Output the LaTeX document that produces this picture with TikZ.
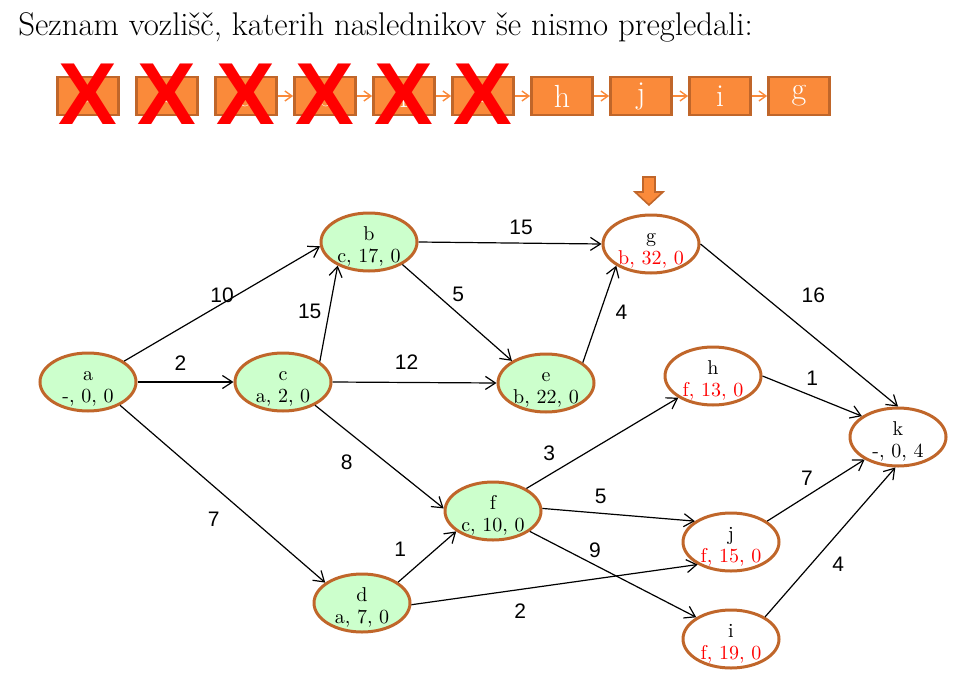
\documentclass[tikz,border=0pt]{standalone}
\usepackage{fontspec}
\setsansfont{Liberation Sans}
\usetikzlibrary{shapes.geometric}
\usetikzlibrary{arrows.meta}

\definecolor{oranzna}{RGB}{250,138,58}
\definecolor{rjava}{RGB}{192,102,42}
\definecolor{zelena}{RGB}{204,255,204}

% ime vozlisca in oznaka (predhodnik, razdalja, ...)
\newcommand{\oznaka}[2]{\rule{0pt}{11pt}#1\\#2}

\begin{document}
\begin{tikzpicture}[x=0.5pt,y=-0.5pt,
        vozel/.style={ellipse, draw=rjava, line width=1.5pt, fill=zelena,
          minimum width=48pt, minimum height=29pt, inner xsep=-6pt, inner ysep=-5pt,
          align=center, font=\fontsize{10}{11}\selectfont},
        odprt/.style={vozel, fill=white},
        skatla/.style={draw=rjava, line width=1.4pt, fill=oranzna, minimum width=30.5pt,
          minimum height=19pt, inner sep=0pt, text=white, font=\fontsize{16}{16}\selectfont},
        krizec/.style={text=red, inner sep=0pt, font=\fontsize{44}{44}\sffamily\bfseries},
        utez/.style={inner sep=1pt, font=\fontsize{10.5}{10.5}\sffamily},
        povezava/.style={-{Straight Barb[length=5pt,width=6.5pt]}, line width=0.6pt},
        veriga/.style={-{Straight Barb[length=3.5pt,width=5pt]}, draw=oranzna, line width=0.7pt}]
        \useasboundingbox (0,0) rectangle (962,690);
        %
        \node [anchor=base west, inner sep=0pt, font=\fontsize{16.4}{19}\selectfont] (naslov)
          at (18,36) {Seznam vozlišč, katerih naslednikov še nismo pregledali:};
        %
        \foreach \ime [count=\i] in {a,c,d,b,f,e,h,j,i,g}
          \node [skatla] (s\i) at ({88+79*(\i-1)},96) {\ime};
        \foreach \i/\j in {3/4,4/5,5/6,6/7,7/8,8/9,9/10}
          \draw [veriga] (s\i) -- (s\j);
        \foreach \i in {1,...,6}
          \node [krizec] (x\i) at ({88+79*(\i-1)},94) {X};
        %
        \draw [fill=oranzna, draw=rjava, line width=0.8pt]
        (643,177) -- (655,177) -- (655,192) -- (663,192) --
        (649,205) -- (635,192) -- (643,192) -- cycle;
        %
        \node [vozel] (a) at (88,382) {\oznaka{a}{-, 0, 0}};
        \node [vozel] (b) at (369,242) {\oznaka{b}{c, 17, 0}};
        \node [vozel] (c) at (283,382) {\oznaka{c}{a, 2, 0}};
        \node [vozel] (d) at (362,603) {\oznaka{d}{a, 7, 0}};
        \node [vozel] (e) at (546,383) {\oznaka{e}{b, 22, 0}};
        \node [vozel] (f) at (493,511) {\oznaka{f}{c, 10, 0}};
        \node [odprt] (g) at (651,244) {\oznaka{g}{\textcolor{red}{b, 32, 0}}};
        \node [odprt] (h) at (713,376) {\oznaka{h}{\textcolor{red}{f, 13, 0}}};
        \node [odprt] (j) at (731,542) {\oznaka{j}{\textcolor{red}{f, 15, 0}}};
        \node [odprt] (i) at (731,639) {\oznaka{i}{\textcolor{red}{f, 19, 0}}};
        \node [odprt] (k) at (898,437) {\oznaka{k}{-, 0, 4}};
        %
        \draw [povezava] (a.30) -- node [utez, yshift=4pt] {10} (b.185);
        \draw [povezava] (a.east) -- node [utez, xshift=-2.5pt, yshift=9.5pt] {2} (c.west);
        \draw [povezava] (a.-36) -- node [utez, xshift=-4.5pt, yshift=-12.5pt] {7} (d.151);
        \draw [povezava] (c.29) -- node [utez, xshift=-9.5pt, yshift=1pt] {15} (b.217);
        \draw [povezava] (c.east) -- node [utez, xshift=-4pt, yshift=10pt] {12} (e.west);
        \draw [povezava] (c.-36) -- node [utez, pos=0.3, xshift=-3.5pt, yshift=-13pt] {8} (f.177);
        \draw [povezava] (b.east) -- node [utez, xshift=5.5pt, yshift=8pt] {15} (g.west);
        \draw [povezava] (b.-34) -- node [utez, xshift=0.5pt, yshift=9pt] {5} (e.147);
        \draw [povezava] (e.29) -- node [utez, xshift=11pt, yshift=1pt] {4} (g.212);
        \draw [povezava] (g.east) -- node [utez, xshift=7pt, yshift=15pt] {16} (k.north);
        \draw [povezava] (h.east) -- node [utez, yshift=9pt] {1} (k.150);
        \draw [povezava] (f.34) -- node [utez, pos=0.15, yshift=11pt] {3} (h.212);
        \draw [povezava] (f.3) -- node [utez, xshift=-9pt, yshift=9pt] {5} (j.150);
        \draw [povezava] (f.-29) -- node [utez, xshift=-9pt, yshift=12pt] {9} (i.148);
        \draw [povezava] (d.30) -- node [utez, xshift=-13.5pt, yshift=4pt] {1} (f.209);
        \draw [povezava] (d.-2) -- node [utez, pos=0.38, yshift=-11pt] {2} (j.214);
        \draw [povezava] (j.30) -- node [utez, xshift=-4.5pt, yshift=6pt] {7} (k.214);
        \draw [povezava] (i.33) -- node [utez, xshift=4pt, yshift=-11pt] {4} (k.-95);
      \end{tikzpicture}
\end{document}
